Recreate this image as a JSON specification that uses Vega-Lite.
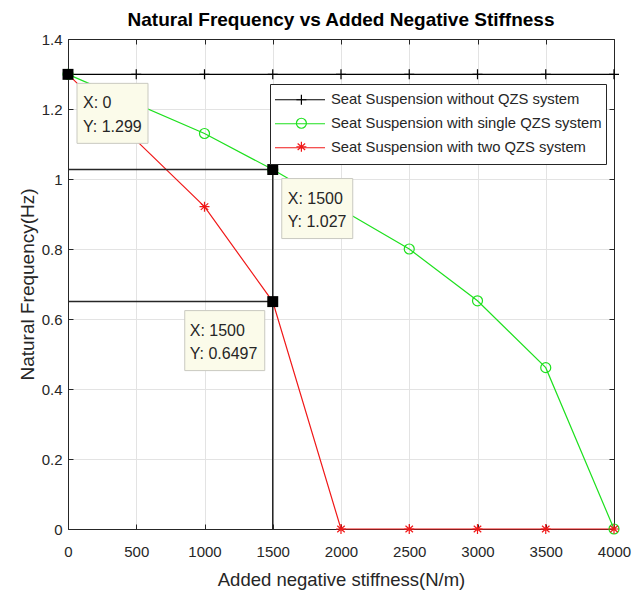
{
  "$schema": "https://vega.github.io/schema/vega-lite/v6.json",
  "autosize": {"type": "none"},
  "width": 546,
  "height": 490,
  "padding": {"left": 68, "top": 39, "right": 26, "bottom": 65},
  "background": "white",
  "title": {
    "text": "Natural Frequency vs Added Negative Stiffness",
    "fontSize": 19,
    "fontWeight": "bold",
    "font": "Liberation Sans",
    "color": "#000000",
    "anchor": "middle",
    "offset": 2
  },
  "datasets": {
    "series": [
      {"k": 0, "f": 1.299, "s": "Seat Suspension without QZS system"},
      {"k": 500, "f": 1.299, "s": "Seat Suspension without QZS system"},
      {"k": 1000, "f": 1.299, "s": "Seat Suspension without QZS system"},
      {"k": 1500, "f": 1.299, "s": "Seat Suspension without QZS system"},
      {"k": 2000, "f": 1.299, "s": "Seat Suspension without QZS system"},
      {"k": 2500, "f": 1.299, "s": "Seat Suspension without QZS system"},
      {"k": 3000, "f": 1.299, "s": "Seat Suspension without QZS system"},
      {"k": 3500, "f": 1.299, "s": "Seat Suspension without QZS system"},
      {"k": 4000, "f": 1.299, "s": "Seat Suspension without QZS system"},
      {"k": 0, "f": 1.299, "s": "Seat Suspension with single QZS system"},
      {"k": 1000, "f": 1.13, "s": "Seat Suspension with single QZS system"},
      {"k": 1500, "f": 1.027, "s": "Seat Suspension with single QZS system"},
      {"k": 2500, "f": 0.8, "s": "Seat Suspension with single QZS system"},
      {"k": 3000, "f": 0.652, "s": "Seat Suspension with single QZS system"},
      {"k": 3500, "f": 0.461, "s": "Seat Suspension with single QZS system"},
      {"k": 4000, "f": 0, "s": "Seat Suspension with single QZS system"},
      {"k": 0, "f": 1.299, "s": "Seat Suspension with two QZS system"},
      {"k": 1000, "f": 0.921, "s": "Seat Suspension with two QZS system"},
      {"k": 1500, "f": 0.6497, "s": "Seat Suspension with two QZS system"},
      {"k": 2000, "f": 0, "s": "Seat Suspension with two QZS system"},
      {"k": 2500, "f": 0, "s": "Seat Suspension with two QZS system"},
      {"k": 3000, "f": 0, "s": "Seat Suspension with two QZS system"},
      {"k": 3500, "f": 0, "s": "Seat Suspension with two QZS system"},
      {"k": 4000, "f": 0, "s": "Seat Suspension with two QZS system"}
    ],
    "guides": [
      {"x1": 0, "x2": 1500, "y1": 1.027, "y2": 1.027},
      {"x1": 0, "x2": 1500, "y1": 0.6497, "y2": 0.6497},
      {"x1": 1500, "x2": 1500, "y1": 0, "y2": 1.027}
    ],
    "tips": [
      {"k": 0, "f": 1.299, "side": "right", "label": "X: 0\nY: 1.299"},
      {"k": 1500, "f": 1.027, "side": "right", "label": "X: 1500\nY: 1.027"},
      {"k": 1500, "f": 0.6497, "side": "left", "label": "X: 1500\nY: 0.6497"}
    ]
  },
  "resolve": {"axis": {"x": "independent", "y": "independent"}, "legend": {"shape": "independent"}},
  "layer": [
    {
      "data": {"name": "series"},
      "mark": {"type": "line", "strokeWidth": 1.2},
      "encoding": {
        "x": {
          "field": "k", "type": "quantitative",
          "scale": {"domain": [0, 4000], "nice": false, "zero": false},
          "axis": {
            "orient": "bottom",
            "values": [0, 500, 1000, 1500, 2000, 2500, 3000, 3500, 4000],
            "format": "d",
            "title": "Added negative stiffness(N/m)",
            "titleFontSize": 18.5, "titleFontWeight": "normal", "titleColor": "#262626", "titlePadding": 11,
            "labelFontSize": 15, "labelColor": "#262626", "labelPadding": 20, "labelFlush": false, "labelOverlap": false,
            "tickSize": -5, "tickColor": "#262626", "domainColor": "#262626",
            "grid": true, "gridColor": "#e3e3e3"
          }
        },
        "y": {
          "field": "f", "type": "quantitative",
          "scale": {"domain": [0, 1.4], "nice": false},
          "axis": {
            "orient": "left",
            "values": [0, 0.2, 0.4, 0.6, 0.8, 1, 1.2, 1.4],
            "format": "~g",
            "title": "Natural Frequency(Hz)",
            "titleFontSize": 19, "titleFontWeight": "normal", "titleColor": "#262626", "titlePadding": 4,
            "labelFontSize": 15, "labelColor": "#262626", "labelPadding": 11, "labelFlush": false, "labelOverlap": false,
            "tickSize": -5, "tickColor": "#262626", "domainColor": "#262626",
            "grid": true, "gridColor": "#e3e3e3"
          }
        },
        "color": {
          "field": "s", "type": "nominal",
          "scale": {
            "domain": ["Seat Suspension without QZS system", "Seat Suspension with single QZS system", "Seat Suspension with two QZS system"],
            "range": ["#000000", "#1ee01e", "#f01818"]
          },
          "legend": {
            "orient": "none", "legendX": 202, "legendY": 45, "title": null, "zindex": 1,
            "strokeColor": "#262626", "fillColor": "white", "padding": 4,
            "labelFont": "Liberation Sans", "labelFontSize": 14.8, "labelColor": "#262626", "labelLimit": 400, "labelOffset": 5,
            "symbolType": "stroke", "symbolSize": 2500, "symbolStrokeWidth": 1.2, "clipHeight": 23.5, "rowPadding": 0
          }
        }
      }
    },
    {
      "data": {"name": "series"},
      "transform": [{"filter": "datum.s === 'Seat Suspension without QZS system'"}],
      "mark": {"type": "point", "filled": false, "size": 100, "strokeWidth": 1.2, "opacity": 1, "color": "#000000"},
      "encoding": {
        "x": {
          "field": "k", "type": "quantitative",
          "axis": {
            "orient": "top", "values": [0, 500, 1000, 1500, 2000, 2500, 3000, 3500, 4000],
            "labels": false, "title": null, "grid": false,
            "tickSize": -5, "tickColor": "#262626", "domainColor": "#262626"
          }
        },
        "y": {
          "field": "f", "type": "quantitative",
          "axis": {
            "orient": "right", "values": [0, 0.2, 0.4, 0.6, 0.8, 1, 1.2, 1.4],
            "labels": false, "title": null, "grid": false,
            "tickSize": -5, "tickColor": "#262626", "domainColor": "#262626"
          }
        },
        "shape": {
          "field": "s", "type": "nominal",
          "scale": {
            "domain": ["Seat Suspension without QZS system", "Seat Suspension with single QZS system", "Seat Suspension with two QZS system"],
            "range": ["M-1,0H1M0,-1V1", "circle", "M-1,0H1M0,-1V1M-0.75,-0.65L0.75,0.65M-0.75,0.65L0.75,-0.65"]
          },
          "legend": {
            "values": ["Seat Suspension without QZS system"],
            "orient": "none", "legendX": 222, "legendY": 45, "title": null, "zindex": 2,
            "strokeColor": null, "fillColor": null, "padding": 4,
            "labelExpr": "''", "labelFontSize": 14.8, "labelOffset": 0,
            "symbolSize": 100, "symbolStrokeWidth": 1.2, "symbolStrokeColor": "#000000", "symbolFillColor": "transparent", "clipHeight": 23.5, "rowPadding": 0
          }
        }
      }
    },
    {
      "data": {"name": "series"},
      "transform": [{"filter": "datum.s === 'Seat Suspension with single QZS system'"}],
      "mark": {"type": "point", "filled": false, "size": 100, "strokeWidth": 1.2, "opacity": 1, "color": "#1ee01e"},
      "encoding": {
        "x": {"field": "k", "type": "quantitative", "axis": null},
        "y": {"field": "f", "type": "quantitative", "axis": null},
        "shape": {
          "field": "s", "type": "nominal",
          "scale": {
            "domain": ["Seat Suspension without QZS system", "Seat Suspension with single QZS system", "Seat Suspension with two QZS system"],
            "range": ["M-1,0H1M0,-1V1", "circle", "M-1,0H1M0,-1V1M-0.75,-0.65L0.75,0.65M-0.75,0.65L0.75,-0.65"]
          },
          "legend": {
            "values": ["Seat Suspension with single QZS system"],
            "orient": "none", "legendX": 222, "legendY": 68.5, "title": null, "zindex": 2,
            "strokeColor": null, "fillColor": null, "padding": 4,
            "labelExpr": "''", "labelFontSize": 14.8, "labelOffset": 0,
            "symbolSize": 100, "symbolStrokeWidth": 1.2, "symbolStrokeColor": "#1ee01e", "symbolFillColor": "transparent", "clipHeight": 23.5, "rowPadding": 0
          }
        }
      }
    },
    {
      "data": {"name": "series"},
      "transform": [{"filter": "datum.s === 'Seat Suspension with two QZS system'"}],
      "mark": {"type": "point", "filled": false, "size": 100, "strokeWidth": 1.2, "opacity": 1, "color": "#f01818"},
      "encoding": {
        "x": {"field": "k", "type": "quantitative", "axis": null},
        "y": {"field": "f", "type": "quantitative", "axis": null},
        "shape": {
          "field": "s", "type": "nominal",
          "scale": {
            "domain": ["Seat Suspension without QZS system", "Seat Suspension with single QZS system", "Seat Suspension with two QZS system"],
            "range": ["M-1,0H1M0,-1V1", "circle", "M-1,0H1M0,-1V1M-0.75,-0.65L0.75,0.65M-0.75,0.65L0.75,-0.65"]
          },
          "legend": {
            "values": ["Seat Suspension with two QZS system"],
            "orient": "none", "legendX": 222, "legendY": 92, "title": null, "zindex": 2,
            "strokeColor": null, "fillColor": null, "padding": 4,
            "labelExpr": "''", "labelFontSize": 14.8, "labelOffset": 0,
            "symbolSize": 100, "symbolStrokeWidth": 1.2, "symbolStrokeColor": "#f01818", "symbolFillColor": "transparent", "clipHeight": 23.5, "rowPadding": 0
          }
        }
      }
    },
    {
      "data": {"name": "guides"},
      "mark": {"type": "rule", "color": "#262626", "strokeWidth": 1.5},
      "encoding": {
        "x": {"field": "x1", "type": "quantitative", "axis": null},
        "x2": {"field": "x2"},
        "y": {"field": "y1", "type": "quantitative", "axis": null},
        "y2": {"field": "y2"}
      }
    },
    {
      "data": {"name": "tips"},
      "mark": {"type": "point", "shape": "square", "filled": true, "size": 120, "color": "#000000", "opacity": 1},
      "encoding": {
        "x": {"field": "k", "type": "quantitative", "axis": null},
        "y": {"field": "f", "type": "quantitative", "axis": null}
      }
    },
    {
      "data": {"name": "tips"},
      "transform": [{"filter": "datum.side === 'right'"}],
      "mark": {"type": "rect", "fill": "#fbfbea", "stroke": "#c9c9c0", "strokeWidth": 1, "xOffset": 9, "x2Offset": 80, "yOffset": 9, "y2Offset": 69},
      "encoding": {
        "x": {"field": "k", "type": "quantitative", "axis": null},
        "x2": {"field": "k"},
        "y": {"field": "f", "type": "quantitative", "axis": null},
        "y2": {"field": "f"}
      }
    },
    {
      "data": {"name": "tips"},
      "transform": [{"filter": "datum.side === 'left'"}],
      "mark": {"type": "rect", "fill": "#fbfbea", "stroke": "#c9c9c0", "strokeWidth": 1, "xOffset": -88, "x2Offset": -8, "yOffset": 9, "y2Offset": 69},
      "encoding": {
        "x": {"field": "k", "type": "quantitative", "axis": null},
        "x2": {"field": "k"},
        "y": {"field": "f", "type": "quantitative", "axis": null},
        "y2": {"field": "f"}
      }
    },
    {
      "data": {"name": "tips"},
      "transform": [{"filter": "datum.side === 'right'"}],
      "mark": {"type": "text", "align": "left", "baseline": "middle", "dx": 15, "dy": 29, "lineBreak": "\n", "lineHeight": 23.5, "fontSize": 16, "font": "Liberation Sans", "color": "#262626"},
      "encoding": {
        "x": {"field": "k", "type": "quantitative", "axis": null},
        "y": {"field": "f", "type": "quantitative", "axis": null},
        "text": {"field": "label"}
      }
    },
    {
      "data": {"name": "tips"},
      "transform": [{"filter": "datum.side === 'left'"}],
      "mark": {"type": "text", "align": "left", "baseline": "middle", "dx": -83, "dy": 29, "lineBreak": "\n", "lineHeight": 23.5, "fontSize": 16, "font": "Liberation Sans", "color": "#262626"},
      "encoding": {
        "x": {"field": "k", "type": "quantitative", "axis": null},
        "y": {"field": "f", "type": "quantitative", "axis": null},
        "text": {"field": "label"}
      }
    }
  ],
  "config": {
    "view": {"stroke": null},
    "font": "Liberation Sans"
  }
}
